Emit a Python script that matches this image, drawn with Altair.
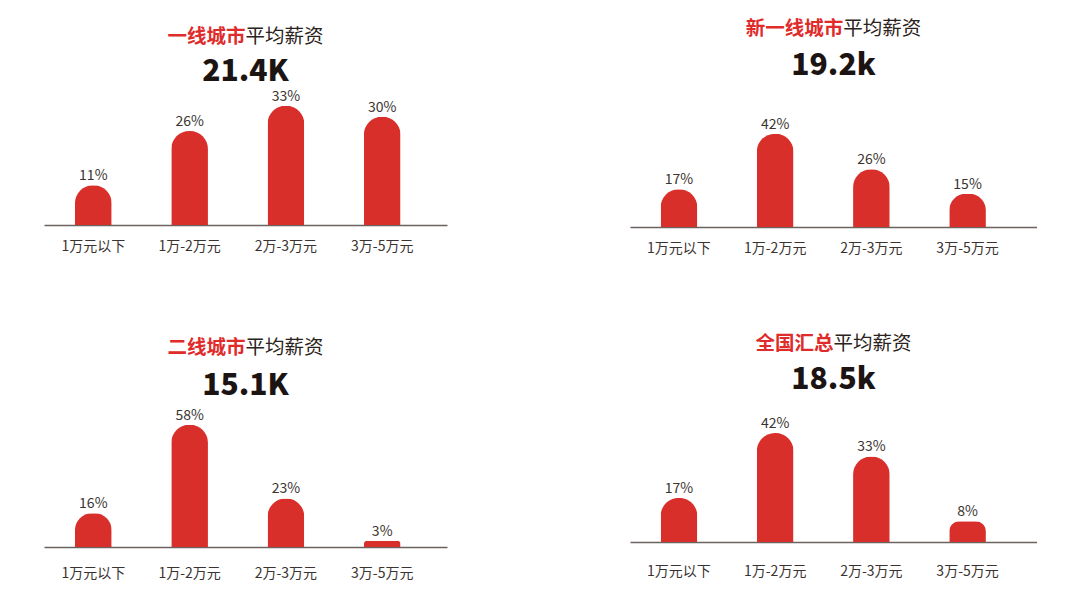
import altair as alt
import pandas as pd

categories = ["1万元以下", "1万-2万元", "2万-3万元", "3万-5万元"]
tier1 = [11, 26, 33, 30]
new_tier1 = [17, 42, 26, 15]
tier2 = [16, 58, 23, 3]
national = [17, 42, 33, 8]
title_red = ["一线城市", "新一线城市", "二线城市", "全国汇总"]
title_black = "平均薪资"
averages = ["21.4K", "19.2k", "15.1K", "18.5k"]

RED = "#d92f2b"
TRED = "#e02b2b"
DARK = "#1c1412"
GRAY = "#3a3330"
LINE = "#6b6360"
FONT = "Noto Sans CJK SC"
TFS = 19.5


def panel(values, red, number, W, H, ymax, title_y, num_y, label_pad, pad_outer, align):
    df = pd.DataFrame({"cat": categories, "v": values,
                       "lab": [f"{v}%" for v in values]})
    x = alt.X("cat:N", sort=categories,
              scale=alt.Scale(paddingInner=0.619, paddingOuter=pad_outer, align=align),
              axis=alt.Axis(title=None, labelAngle=0, ticks=False, domainColor=LINE,
                            domainWidth=1.5, labelFont=FONT, labelFontSize=14,
                            labelColor=GRAY, labelPadding=label_pad, zindex=0))
    y = alt.Y("v:Q", scale=alt.Scale(domain=[0, ymax]), axis=None)
    bars = alt.Chart(df).mark_bar(color=RED, cornerRadiusTopLeft=18,
                                  cornerRadiusTopRight=18).encode(x=x, y=y)
    labels = alt.Chart(df).mark_text(dy=-5, baseline="alphabetic", font=FONT,
                                     fontSize=14, color=GRAY).encode(x=x, y=y, text="lab:N")
    split = W / 2 + (len(red) - 4) * TFS / 2
    t1 = alt.Chart(pd.DataFrame({"t": [red]})).mark_text(
        align="right", baseline="middle", font=FONT, fontSize=TFS, fontWeight="bold",
        color=TRED).encode(text="t:N", x=alt.value(split), y=alt.value(title_y))
    t2 = alt.Chart(pd.DataFrame({"t": [title_black]})).mark_text(
        align="left", baseline="middle", font=FONT, fontSize=TFS, fontWeight="normal",
        color="#2b2320").encode(text="t:N", x=alt.value(split), y=alt.value(title_y))
    num = alt.Chart(pd.DataFrame({"t": [number]})).mark_text(
        align="center", baseline="middle", font=FONT, fontSize=30, fontWeight=900,
        color=DARK).encode(text="t:N", x=alt.value(W / 2), y=alt.value(num_y))
    return alt.layer(bars, labels, t1, t2, num).properties(width=W, height=H)


p1 = panel(tier1, title_red[0], averages[0], 403, 220, 60.9, 32, 67, 14, 0.402, 0.40)
p2 = panel(new_tier1, title_red[1], averages[1], 407, 222, 99.9, 23.5, 61, 14, 0.425, 0.375)
p3 = panel(tier2, title_red[2], averages[2], 403, 227, 107.6, 28, 66, 19, 0.402, 0.40)
p4 = panel(national, title_red[3], averages[3], 407, 227, 87.5, 28.5, 65, 22, 0.425, 0.375)

left = alt.vconcat(p1, p3, spacing=95, bounds="flush")
right = alt.vconcat(p2, p4, spacing=88, bounds="flush")

chart = alt.hconcat(left, right, spacing=183).properties(
    padding={"left": 44, "top": 5, "right": 0, "bottom": 0},
    background="white",
).configure_view(strokeWidth=0)

chart.save("out.html", embed_options={"renderer": "svg", "actions": False})
